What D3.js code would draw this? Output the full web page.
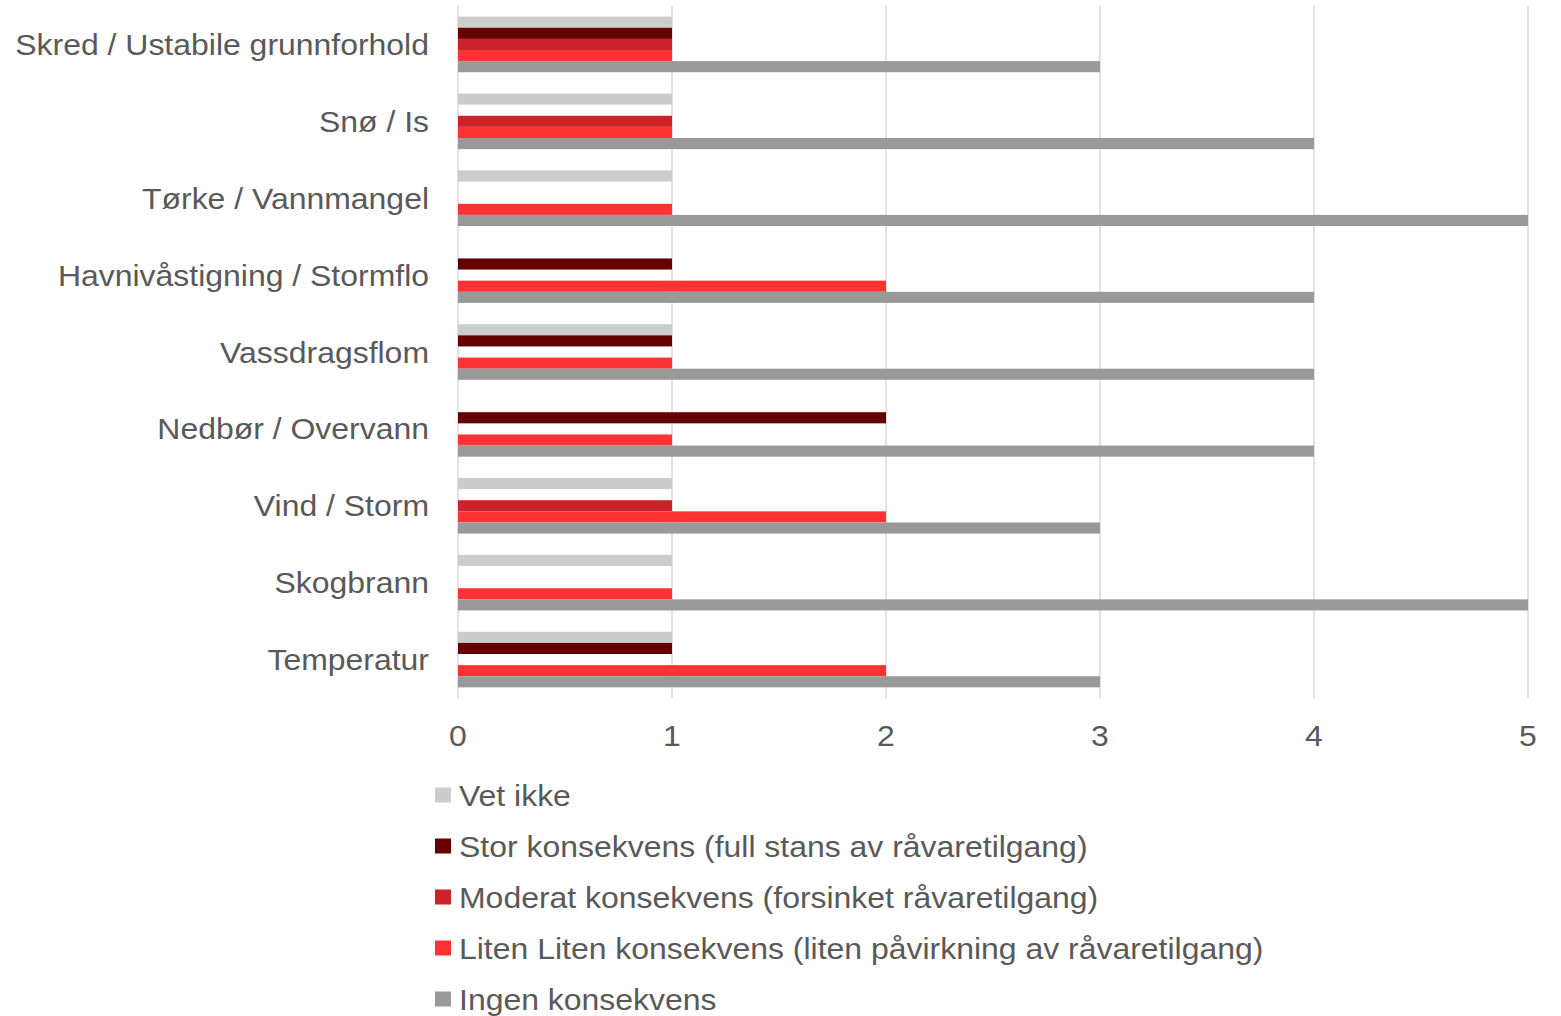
<!DOCTYPE html>
<html>
<head>
<meta charset="utf-8">
<script src="https://cdn.jsdelivr.net/npm/d3@7"></script>
<style>
  body { margin: 0; background: #fff; }
  text { font-family: "Liberation Sans", Arial, sans-serif; fill: #595959; }
</style>
</head>
<body>
<svg id="chart"></svg>
<script>
var categories = [
  'Skred / Ustabile grunnforhold',
  'Snø / Is',
  'Tørke / Vannmangel',
  'Havnivåstigning / Stormflo',
  'Vassdragsflom',
  'Nedbør / Overvann',
  'Vind / Storm',
  'Skogbrann',
  'Temperatur'
]

var seriesNames = [
  'Vet ikke',
  'Stor konsekvens (full stans av råvaretilgang)',
  'Moderat konsekvens (forsinket råvaretilgang)',
  'Liten Liten konsekvens (liten påvirkning av råvaretilgang)',
  'Ingen konsekvens'
]

var vetIkke = [1, 1, 1, 0, 1, 0, 1, 1, 1]
var stor = [1, 0, 0, 1, 1, 2, 0, 0, 1]
var moderat = [1, 1, 0, 0, 0, 0, 1, 0, 0]
var liten = [1, 1, 1, 2, 1, 1, 2, 1, 2]
var ingen = [3, 4, 5, 4, 4, 4, 3, 5, 3]

var xTicks = [0, 1, 2, 3, 4, 5]

var colors = ['#cccccc', '#660000', '#cc2229', '#ff3333', '#999999']

var series = [vetIkke, stor, moderat, liten, ingen]

var width = 1561
var height = 1016
var plotLeft = 458
var plotRight = 1528
var plotTop = 6
var plotBottom = 698
var fontSize = 30
var stretch = 1.065

var svg = d3.select('#chart').attr('width', width).attr('height', height)

var x = d3.scaleLinear().domain([0, 5]).range([plotLeft, plotRight])

var y = d3.scaleBand()
  .domain(categories)
  .range([plotTop, plotBottom])
  .paddingInner(0.277)
  .paddingOuter(0.1385)

var ySub = d3.scaleBand()
  .domain(d3.range(series.length))
  .range([0, y.bandwidth()])

// gridlines
svg.append('g')
  .selectAll('line')
  .data(xTicks)
  .join('line')
  .attr('x1', (d) => x(d))
  .attr('x2', (d) => x(d))
  .attr('y1', plotTop)
  .attr('y2', plotBottom)
  .attr('stroke', '#d9d9d9')
  .attr('stroke-width', 1.5)

// bars
var groups = svg.append('g')
  .selectAll('g')
  .data(categories)
  .join('g')
  .attr('transform', (d) => `translate(0,${y(d)})`)

groups.selectAll('rect')
  .data((d, i) => series.map((s, j) => ({ s: j, v: s[i] })))
  .join('rect')
  .filter((d) => d.v > 0)
  .attr('x', x(0))
  .attr('y', (d) => ySub(d.s))
  .attr('width', (d) => x(d.v) - x(0))
  .attr('height', ySub.bandwidth())
  .attr('fill', (d) => colors[d.s])

// category labels
svg.append('g')
  .selectAll('text')
  .data(categories)
  .join('text')
  .attr('transform', (d) => `translate(429,${y(d) + y.bandwidth() / 2}) scale(${stretch},1)`)
  .attr('dy', '0.35em')
  .attr('text-anchor', 'end')
  .attr('font-size', fontSize)
  .text((d) => d)

// x tick labels
svg.append('g')
  .selectAll('text')
  .data(xTicks)
  .join('text')
  .attr('transform', (d) => `translate(${x(d)},735) scale(${stretch},1)`)
  .attr('dy', '0.35em')
  .attr('text-anchor', 'middle')
  .attr('font-size', fontSize)
  .text((d) => d)

// legend
var legend = svg.append('g')
  .selectAll('g')
  .data(seriesNames)
  .join('g')
  .attr('transform', (d, i) => `translate(435,${795 + i * 51})`)

legend.append('rect')
  .attr('x', 0)
  .attr('y', -7.5)
  .attr('width', 16)
  .attr('height', 15)
  .attr('fill', (d, i) => colors[i])

legend.append('text')
  .attr('transform', `translate(24,0) scale(${stretch},1)`)
  .attr('dy', '0.35em')
  .attr('font-size', fontSize)
  .text((d) => d)
</script>
</body>
</html>
